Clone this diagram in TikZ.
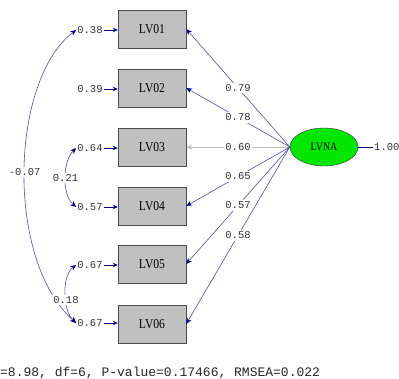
\documentclass[tikz,border=0pt]{standalone}
\usepackage{fontspec}
\setmainfont{Liberation Serif}
\setmonofont{Liberation Mono}
\newfontfamily\boxfont[FakeStretch=0.86]{Liberation Serif}
\usetikzlibrary{shapes.geometric,arrows.meta}
\definecolor{navy}{RGB}{0,0,128}
\definecolor{lline}{RGB}{80,80,165}
\definecolor{boxgray}{RGB}{192,192,192}
\definecolor{lvgreen}{RGB}{0,230,0}
\definecolor{lgray}{RGB}{190,190,190}
\begin{document}
\begin{tikzpicture}[x=1pt,y=-1pt,
  obs/.style={draw=black!70,fill=boxgray,minimum width=68pt,minimum height=38pt,inner sep=0pt,font=\boxfont\fontsize{13.5}{13.5}\selectfont},
  lat/.style={ellipse,draw=black!80,fill=lvgreen,minimum width=68pt,minimum height=38pt,inner sep=0pt,font=\boxfont\fontsize{11.5}{11.5}\selectfont},
  num/.style={font=\ttfamily\fontsize{10.5}{10.5}\selectfont,inner sep=1pt,text=black!80},
  lbl/.style={num,fill=white,inner sep=1.5pt},
  load/.style={-{Stealth[length=6pt,width=5pt,color=navy]},draw=lline,line width=0.6pt},
  errarr/.style={-{Stealth[length=5pt,width=4.5pt,color=navy]},draw=navy,line width=0.8pt},
  cov/.style={{Stealth[length=6pt,width=5pt,color=navy]}-{Stealth[length=6pt,width=5pt,color=navy]},draw=lline,line width=0.6pt}
]
\useasboundingbox (0,0) rectangle (399,379);
\fill[white] (0,0) rectangle (399,379);

\node[obs] (b1) at (152,29) {LV01};
\node[obs] (b2) at (152,88) {LV02};
\node[obs] (b3) at (152,147) {LV03};
\node[obs] (b4) at (152,206) {LV04};
\node[obs] (b5) at (152,264) {LV05};
\node[obs] (b6) at (152,324) {LV06};

\node[lat] (lv) at (324,147) {LVNA};

\node[num] (e1) at (90,30) {0.38};
\node[num] (e2) at (90,89) {0.39};
\node[num] (e3) at (90,148) {0.64};
\node[num] (e4) at (90,207) {0.57};
\node[num] (e5) at (90,265) {0.67};
\node[num] (e6) at (90,323) {0.67};

\foreach \i in {1,2,3,4,5,6}{
  \draw[errarr] (e\i.east) -- (b\i.west |- e\i.east);
}

\draw[load] (lv.west) -- node[lbl,pos=0.5]{0.79} (b1.east);
\draw[load] (lv.west) -- node[lbl,pos=0.5]{0.78} (b2.east);
\draw[-{Stealth[length=6pt,width=5pt,color=lgray]},draw=lgray,line width=0.6pt] (lv.west) -- node[lbl,pos=0.5]{0.60} (b3.east);
\draw[load] (lv.west) -- node[lbl,pos=0.5]{0.65} (b4.east);
\draw[load] (lv.west) -- node[lbl,pos=0.5]{0.57} (b5.east);
\draw[load] (lv.west) -- node[lbl,pos=0.5]{0.58} (b6.east);

\node[num,anchor=west] (v) at (373,147) {1.00};
\draw[draw=navy,line width=0.8pt] (lv.east) -- (v.west);

\draw[cov] (e1.west) .. controls (10,80) and (5,260) .. node[lbl,pos=0.5]{-0.07} (e6.west);
\draw[cov] (e3.west) .. controls (62,162) and (62,195) .. node[lbl,pos=0.5]{0.21} (e4.west);
\draw[cov] (e5.west) .. controls (62,275) and (62,310) .. node[lbl,pos=0.6]{0.18} (e6.west);

\node[font=\ttfamily\fontsize{13}{13}\selectfont,anchor=west,inner sep=0pt,text=black!85] (fit) at (0,373) {=8.98, df=6, P-value=0.17466, RMSEA=0.022};
\end{tikzpicture}
\end{document}
